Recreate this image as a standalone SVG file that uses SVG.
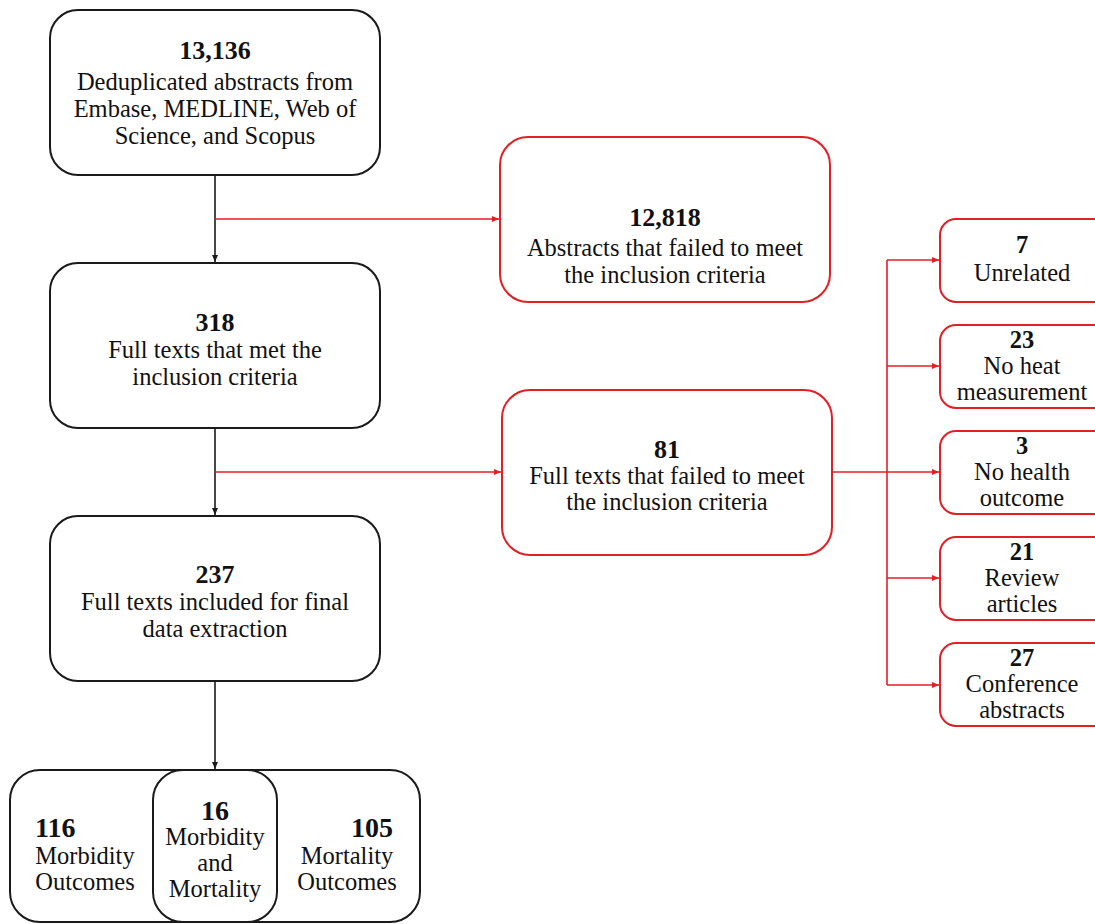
<svg xmlns="http://www.w3.org/2000/svg" width="1095" height="924" viewBox="0 0 1095 924">
<defs>
<style>
.bk{fill:#fff;stroke:#1a1a1a;stroke-width:2}
.rd{fill:#fff;stroke:#e31e24;stroke-width:2}
.t{font-family:"Liberation Serif","DejaVu Serif",serif;font-size:24.5px;fill:#111;text-anchor:middle}
.b{font-weight:bold;font-size:26px}
.cb{fill:none;stroke:#1a1a1a;stroke-width:1.6}
.cr{fill:none;stroke:#e31e24;stroke-width:1.6}
</style>
<marker id="ab" markerWidth="8" markerHeight="8" refX="7" refY="4" orient="auto" markerUnits="userSpaceOnUse"><path d="M0,1 L7,4 L0,7 Z" fill="#1a1a1a"/></marker>
<marker id="ar" markerWidth="8" markerHeight="8" refX="7" refY="4" orient="auto" markerUnits="userSpaceOnUse"><path d="M0,1 L7,4 L0,7 Z" fill="#e31e24"/></marker>
</defs>
<g id="connectors">
<path class="cb" d="M215,175 V262" marker-end="url(#ab)"/>
<path class="cb" d="M215,428 V515" marker-end="url(#ab)"/>
<path class="cb" d="M215,681 V769" marker-end="url(#ab)"/>
<path class="cr" d="M215,219 H499" marker-end="url(#ar)"/>
<path class="cr" d="M215,472 H501" marker-end="url(#ar)"/>
<path class="cr" d="M832,472 H939" marker-end="url(#ar)"/>
<path class="cr" d="M887,260 V685"/>
<path class="cr" d="M887,260 H939" marker-end="url(#ar)"/>
<path class="cr" d="M887,366 H939" marker-end="url(#ar)"/>
<path class="cr" d="M887,578 H939" marker-end="url(#ar)"/>
<path class="cr" d="M887,685 H939" marker-end="url(#ar)"/>
</g>
<g id="n1"><rect class="bk" x="50" y="10" width="330" height="165" rx="28"/>
<text class="t"><tspan class="b" x="215" y="59">13,136</tspan><tspan x="215" y="90">Deduplicated abstracts from</tspan><tspan x="215" y="117">Embase, MEDLINE, Web of</tspan><tspan x="215" y="144">Science, and Scopus</tspan></text></g>
<g id="n2"><rect class="rd" x="500" y="137" width="330" height="165" rx="28"/>
<text class="t"><tspan class="b" x="665" y="226">12,818</tspan><tspan x="665" y="256">Abstracts that failed to meet</tspan><tspan x="665" y="283">the inclusion criteria</tspan></text></g>
<g id="n3"><rect class="bk" x="50" y="263" width="330" height="165" rx="28"/>
<text class="t"><tspan class="b" x="215" y="331">318</tspan><tspan x="215" y="358">Full texts that met the</tspan><tspan x="215" y="385">inclusion criteria</tspan></text></g>
<g id="n4"><rect class="rd" x="502" y="390" width="330" height="165" rx="28"/>
<text class="t"><tspan class="b" x="667" y="458">81</tspan><tspan x="667" y="484">Full texts that failed to meet</tspan><tspan x="667" y="510">the inclusion criteria</tspan></text></g>
<g id="n5"><rect class="bk" x="50" y="516" width="330" height="165" rx="28"/>
<text class="t"><tspan class="b" x="215" y="583">237</tspan><tspan x="215" y="610">Full texts included for final</tspan><tspan x="215" y="637">data extraction</tspan></text></g>
<g id="n6"><rect class="rd" x="940" y="219" width="170" height="83" rx="16"/>
<text class="t"><tspan class="b" x="1022" y="253" style="font-size:24.5px">7</tspan><tspan x="1022" y="281">Unrelated</tspan></text></g>
<g id="n7"><rect class="rd" x="940" y="325" width="170" height="83" rx="16"/>
<text class="t"><tspan class="b" x="1022" y="348" style="font-size:24.5px">23</tspan><tspan x="1022" y="374">No heat</tspan><tspan x="1022" y="400">measurement</tspan></text></g>
<g id="n8"><rect class="rd" x="940" y="431" width="170" height="83" rx="16"/>
<text class="t"><tspan class="b" x="1022" y="454" style="font-size:24.5px">3</tspan><tspan x="1022" y="480">No health</tspan><tspan x="1022" y="506">outcome</tspan></text></g>
<g id="n9"><rect class="rd" x="940" y="537" width="170" height="83" rx="16"/>
<text class="t"><tspan class="b" x="1022" y="560" style="font-size:24.5px">21</tspan><tspan x="1022" y="586">Review</tspan><tspan x="1022" y="612">articles</tspan></text></g>
<g id="n10"><rect class="rd" x="940" y="643" width="170" height="83" rx="16"/>
<text class="t"><tspan class="b" x="1022" y="666" style="font-size:24.5px">27</tspan><tspan x="1022" y="692">Conference</tspan><tspan x="1022" y="718">abstracts</tspan></text></g>
<g id="n11"><rect class="bk" x="10" y="770" width="410" height="152" rx="30"/>
<text class="t"><tspan class="b" x="35" y="837" text-anchor="start" style="font-size:28px">116</tspan><tspan x="85" y="864">Morbidity</tspan><tspan x="85" y="890">Outcomes</tspan></text>
<text class="t"><tspan class="b" x="393" y="837" text-anchor="end" style="font-size:28px">105</tspan><tspan x="347" y="864">Mortality</tspan><tspan x="347" y="890">Outcomes</tspan></text></g>
<g id="n12"><rect class="bk" x="153" y="770" width="124" height="152" rx="30"/>
<text class="t"><tspan class="b" x="215" y="820" style="font-size:28px">16</tspan><tspan x="215" y="845">Morbidity</tspan><tspan x="215" y="871">and</tspan><tspan x="215" y="897">Mortality</tspan></text></g>
</svg>
